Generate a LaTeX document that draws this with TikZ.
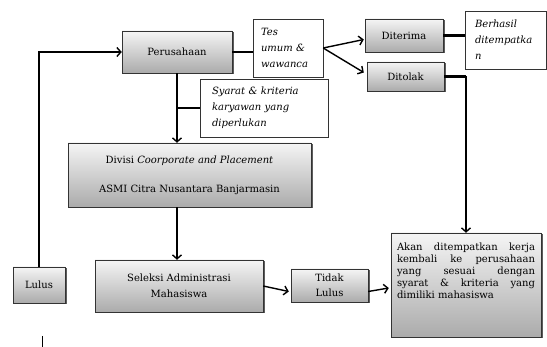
\documentclass[tikz,border=0pt]{standalone}
\usepackage{fontspec}
\setmainfont{DejaVu Serif}
\usetikzlibrary{calc, shadows, arrows.meta}

\begin{document}
\begin{tikzpicture}[x=1pt, y=-1pt,
        box/.style={draw=black!80, top color=black!4, bottom color=black!33, drop shadow={shadow xshift=1.5pt, shadow yshift=-1.5pt, fill=black!80, opacity=0.8}, font=\fontsize{10}{16}\selectfont, align=center, inner sep=0pt},
        note/.style={draw=black!80, fill=white, font=\fontsize{10}{16}\selectfont\itshape, align=left, inner sep=0pt},
        link/.style={line width=0.8mm, black},
        arr/.style={line width=1.4pt, black, -{Straight Barb[length=4pt, width=9pt, line width=1.4pt]}}]
        \useasboundingbox (0,0) rectangle (547,347);

        \node[box, minimum width=110, minimum height=42] (perus) at (177,52) {Perusahaan};
        \node[note, minimum width=70, minimum height=58, text width=54] (tes) at (288,48) {Tes\\umum \&\\wawanca};
        \node[note, minimum width=128, minimum height=58, text width=104] (syarat) at (264,108) {Syarat \& kriteria\\karyawan yang\\diperlukan};
        \node[box, minimum width=78, minimum height=33] (diterima) at (404,35.5) {Diterima};
        \node[box, minimum width=77, minimum height=29] (ditolak) at (405.5,76.5) {Ditolak};
        \node[note, minimum width=81, minimum height=58, text width=61] (berhasil) at (505.5,40) {Berhasil\\ditempatka\\n};
        \node[box, minimum width=243, minimum height=64] (divisi) at (189.5,175) {Divisi \textit{Coorporate and Placement}\\[13pt]ASMI Citra Nusantara Banjarmasin};
        \node[box, minimum width=168, minimum height=52] (seleksi) at (179,286) {Seleksi Administrasi\\Mahasiswa};
        \node[box, minimum width=52, minimum height=36] (lulus) at (39,285) {Lulus};
        \node[box, minimum width=77, minimum height=33, font=\fontsize{10}{15}\selectfont] (tidak) at (329.5,285.5) {Tidak\\Lulus};
        \node[box, minimum width=150, minimum height=104, inner xsep=6pt, inner ysep=10pt, font=\fontsize{10}{12}\selectfont] (akan) at (466,285) {\parbox[c][84pt][t]{138pt}{Akan ditempatkan kerja\linebreak kembali ke perusahaan\linebreak yang sesuai dengan\linebreak syarat \& kriteria yang\linebreak dimiliki mahasiswa}};

        \draw[link] (perus.east) -- (perus.east -| tes.west);
        \draw[arr] (lulus.north) |- (perus.west);
        \draw[arr] (perus.south) -- (perus.south |- divisi.north);
        \draw[link] (perus.south |- syarat.west) -- (syarat.west);
        \draw[arr] (tes.east) -- ($(diterima.west)+(-1,4)$);
        \draw[arr] (tes.east) -- ($(ditolak.west)+(-3,-4)$);
        \draw[link] (diterima.east) -- (diterima.east -| berhasil.west);
        \draw[link] (ditolak.east) -- (ditolak.east -| akan.north);
        \draw[arr] (ditolak.east -| akan.north) -- (akan.north);
        \draw[arr] (perus.south |- divisi.south) -- (perus.south |- seleksi.north);
        \draw[arr] (seleksi.east) -- ($(tidak.west)+(-2,6)$);
        \draw[arr] ($(tidak.east)+(0,6)$) -- ($(akan.west)+(-2,3)$);
        \draw[line width=0.6pt] (42,336) -- (42,347);
    \end{tikzpicture}
\end{document}
